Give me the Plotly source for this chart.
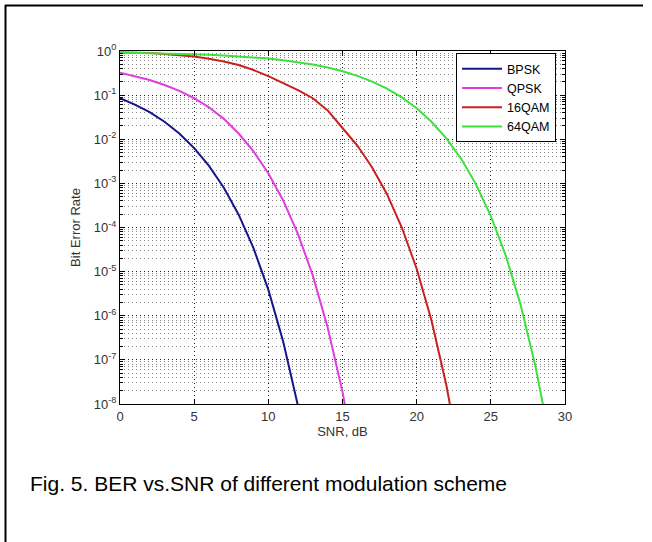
import plotly.graph_objects as go

# ---- data (SNR in dB, error rate) ----
snr_bpsk = [0, 1, 2, 3, 4, 5, 6, 7, 8, 9, 10, 11, 12, 13]
ber_bpsk = [0.085, 0.061, 0.041, 0.025, 0.0135, 0.0063, 0.0025, 8.0e-4,
            1.95e-4, 3.4e-5, 3.9e-6, 2.6e-7, 9.0e-9, 1.3e-10]

snr_qpsk = [0, 1, 2, 3, 4, 5, 6, 7, 8, 9, 10, 11, 12, 13, 14, 15, 16]
ber_qpsk = [0.32, 0.27, 0.22, 0.17, 0.125, 0.085, 0.053, 0.029, 0.0135,
            0.0053, 0.0017, 4.1e-4, 7.1e-5, 8.1e-6, 5.4e-7, 1.88e-8, 2.8e-10]

snr_16qam = [0, 1, 2, 3, 4, 5, 6, 7, 8, 9, 10, 11, 12, 13, 14, 15, 16, 17,
             18, 19, 20, 21, 22, 23]
ber_16qam = [0.93, 0.92, 0.90, 0.86, 0.81, 0.75, 0.67, 0.58, 0.48, 0.37,
             0.27, 0.19, 0.13, 0.085, 0.045, 0.018, 0.0072, 0.0023, 5.7e-4,
             1.0e-4, 1.16e-5, 7.8e-7, 2.7e-8, 4.0e-10]

snr_64qam = [0, 1, 2, 3, 4, 5, 6, 7, 8, 9, 10, 11, 12, 13, 14, 15, 16, 17,
             18, 19, 20, 21, 22, 23, 24, 25, 26, 27, 28, 29]
ber_64qam = [0.93, 0.915, 0.90, 0.886, 0.869, 0.848, 0.824, 0.795, 0.761,
             0.72, 0.674, 0.62, 0.56, 0.494, 0.422, 0.348, 0.273, 0.203,
             0.14, 0.0886, 0.0503, 0.0249, 0.0105, 0.0036, 9.5e-4, 1.82e-4,
             2.34e-5, 1.81e-6, 7.4e-8, 1.4e-9]

series_names = ["BPSK", "QPSK", "16QAM", "64QAM"]
series_colors = ["#16168a", "#e03ce0", "#c8201e", "#3ee03e"]

x_tick_vals = [0, 5, 10, 15, 20, 25, 30]
x_tick_text = ["0", "5", "10", "15", "20", "25", "30"]
y_tick_vals = [1e-8, 1e-7, 1e-6, 1e-5, 1e-4, 1e-3, 1e-2, 1e-1, 1]
y_tick_text = ["10<sup>-8</sup>", "10<sup>-7</sup>", "10<sup>-6</sup>",
               "10<sup>-5</sup>", "10<sup>-4</sup>", "10<sup>-3</sup>",
               "10<sup>-2</sup>", "10<sup>-1</sup>", "10<sup>0</sup>"]

caption = "Fig. 5. BER vs.SNR of different modulation scheme"

# ---- figure ----
W, H = 652, 542
L, R, T, B = 120, 87, 51, 138
pw, ph = W - L - R, H - T - B

fig = go.Figure()
for xs, ys, name, col in zip([snr_bpsk, snr_qpsk, snr_16qam, snr_64qam],
                             [ber_bpsk, ber_qpsk, ber_16qam, ber_64qam],
                             series_names, series_colors):
    fig.add_trace(go.Scatter(x=xs, y=ys, mode="lines", name=name,
                             line=dict(color=col, width=2)))

axis_font = dict(family="Arial", size=13, color="#333")

fig.update_xaxes(
    range=[0, 30], tickvals=x_tick_vals, ticktext=x_tick_text,
    showline=True, linecolor="#000", linewidth=1, mirror="allticks",
    ticks="inside", ticklen=5, tickcolor="#000",
    showgrid=True, gridcolor="#222", griddash="1px,3px", gridwidth=1,
    zeroline=False, tickfont=axis_font,
    title=dict(text="SNR, dB", font=axis_font, standoff=2),
)
fig.update_yaxes(
    type="log", range=[-8, 0], tickvals=y_tick_vals, ticktext=y_tick_text,
    showline=True, linecolor="#000", linewidth=1, mirror="allticks",
    ticks="inside", ticklen=5, tickcolor="#000",
    showgrid=True, gridcolor="#222", griddash="1px,3px", gridwidth=1,
    zeroline=False, tickfont=axis_font,
    minor=dict(dtick="D1", ticks="inside", ticklen=3, tickcolor="#000",
               showgrid=True, gridcolor="#888", griddash="1px,3px",
               gridwidth=1),
    title=dict(text="Bit Error Rate", font=axis_font, standoff=10),
)

def px_x(px):
    return (px - L) / pw

def px_y(py):
    return (H - B - py) / ph

# outer frame (top and left edges) as in the reference
fig.add_shape(type="line", xref="paper", yref="paper",
              x0=px_x(5), x1=px_x(643), y0=px_y(5.5), y1=px_y(5.5),
              line=dict(color="#000", width=2))
fig.add_shape(type="line", xref="paper", yref="paper",
              x0=px_x(5.5), x1=px_x(5.5), y0=px_y(5), y1=px_y(560),
              line=dict(color="#000", width=2))

fig.add_annotation(text=caption, xref="paper", yref="paper",
                   x=px_x(28), y=px_y(483), xanchor="left", yanchor="middle",
                   showarrow=False,
                   font=dict(family="Arial", size=21, color="#000"))

fig.update_layout(
    width=W, height=H, margin=dict(l=L, r=R, t=T, b=B, autoexpand=False),
    paper_bgcolor="#fff", plot_bgcolor="#fff",
    showlegend=True,
    legend=dict(x=px_x(456), y=px_y(53), xanchor="left", yanchor="top",
                bgcolor="#fff", bordercolor="#000", borderwidth=1,
                font=dict(family="Arial", size=12.5, color="#000"),
                itemwidth=40, tracegroupgap=0),
)

# remove the browser's default page margin so the figure sits at (0, 0)
fig.write_html("out.html", config={"displayModeBar": False},
               post_script="document.body.style.margin='0';")
